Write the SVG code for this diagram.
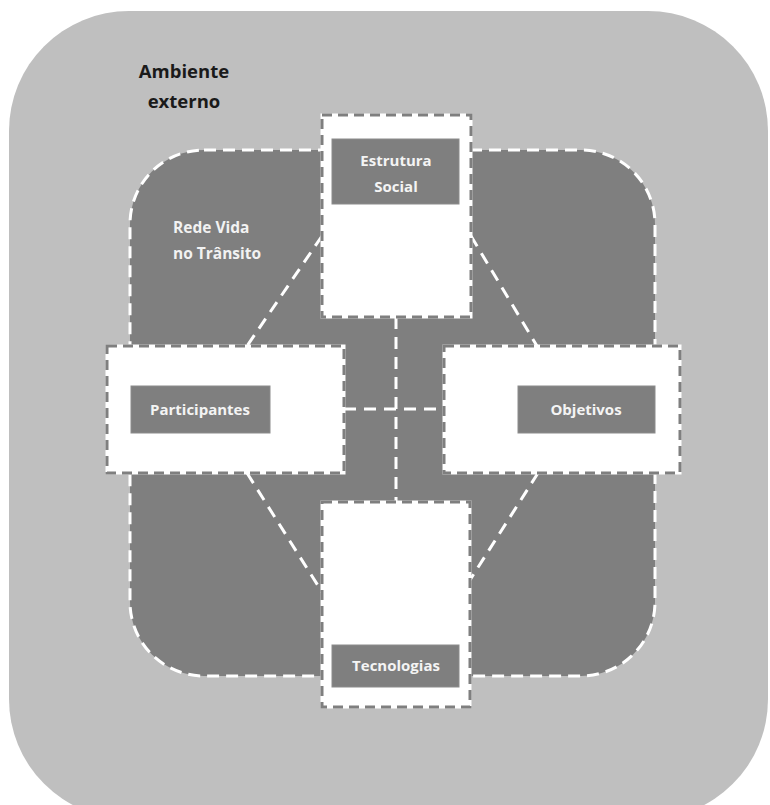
<svg xmlns="http://www.w3.org/2000/svg" width="770" height="805" viewBox="0 0 770 805">
  <style>
    .outer { fill: #bfbfbf; }
    .net { fill: #7f7f7f; stroke: #ffffff; stroke-width: 3; stroke-dasharray: 12 7; }
    .panel { fill: #ffffff; stroke: #ffffff; stroke-width: 3; }
    .panel-edge { fill: none; stroke: #7f7f7f; stroke-width: 3; stroke-dasharray: 10 6; }
    .tag { fill: #7f7f7f; stroke: #8c8c8c; stroke-width: 1; }
    .tag-text { font-family: "Open Sans", "Liberation Sans", sans-serif; font-weight: 700; font-size: 15px; fill: #f4f4f4; text-anchor: middle; }
    .env-text { font-family: "Open Sans", "Liberation Sans", sans-serif; font-weight: 700; font-size: 18.5px; fill: #1a1a1a; text-anchor: middle; }
    .net-text { font-family: "Open Sans", "Liberation Sans", sans-serif; font-weight: 700; font-size: 15.5px; fill: #f2f2f2; }
    .link { fill: none; stroke: #ffffff; stroke-width: 3; stroke-dasharray: 12 8; }
  </style>

  <!-- external environment -->
  <g id="ambiente-externo">
    <rect class="outer" x="9" y="11" width="759" height="808" rx="120" ry="120"/>
    <text class="env-text" x="184" y="78">Ambiente</text>
    <text class="env-text" x="184" y="108">externo</text>
  </g>

  <!-- network area -->
  <g id="rede-vida">
    <rect class="net" x="130" y="150" width="525" height="526" rx="74" ry="74"/>
    <text class="net-text" x="173" y="233">Rede Vida</text>
    <text class="net-text" x="173" y="259">no Trânsito</text>
  </g>

  <!-- connectors between the four elements -->
  <g id="connectors">
    <line class="link" x1="396" y1="317" x2="396" y2="502"/>
    <line class="link" x1="344" y1="409" x2="444" y2="409"/>
    <line class="link" x1="322" y1="236" x2="247" y2="346"/>
    <line class="link" x1="471" y1="236" x2="537" y2="346"/>
    <line class="link" x1="247" y1="473" x2="322" y2="592"/>
    <line class="link" x1="538" y1="473" x2="470" y2="580"/>
  </g>

  <g id="estrutura-social">
    <rect class="panel" x="322" y="115" width="149" height="202"/>
    <rect class="panel-edge" x="322" y="115" width="149" height="202"/>
    <rect class="tag" x="332" y="139" width="127" height="65"/>
    <text class="tag-text" x="396" y="166">Estrutura</text>
    <text class="tag-text" x="396" y="192">Social</text>
  </g>

  <g id="participantes">
    <rect class="panel" x="107" y="346" width="237" height="127"/>
    <rect class="panel-edge" x="107" y="346" width="237" height="127"/>
    <rect class="tag" x="131" y="386" width="139" height="47"/>
    <text class="tag-text" x="200" y="415">Participantes</text>
  </g>

  <g id="objetivos">
    <rect class="panel" x="444" y="346" width="236" height="127"/>
    <rect class="panel-edge" x="444" y="346" width="236" height="127"/>
    <rect class="tag" x="518" y="386" width="137" height="47"/>
    <text class="tag-text" x="586" y="415">Objetivos</text>
  </g>

  <g id="tecnologias">
    <rect class="panel" x="322" y="502" width="148" height="205"/>
    <rect class="panel-edge" x="322" y="502" width="148" height="205"/>
    <rect class="tag" x="332" y="645" width="127" height="42"/>
    <text class="tag-text" x="396" y="671">Tecnologias</text>
  </g>
</svg>
